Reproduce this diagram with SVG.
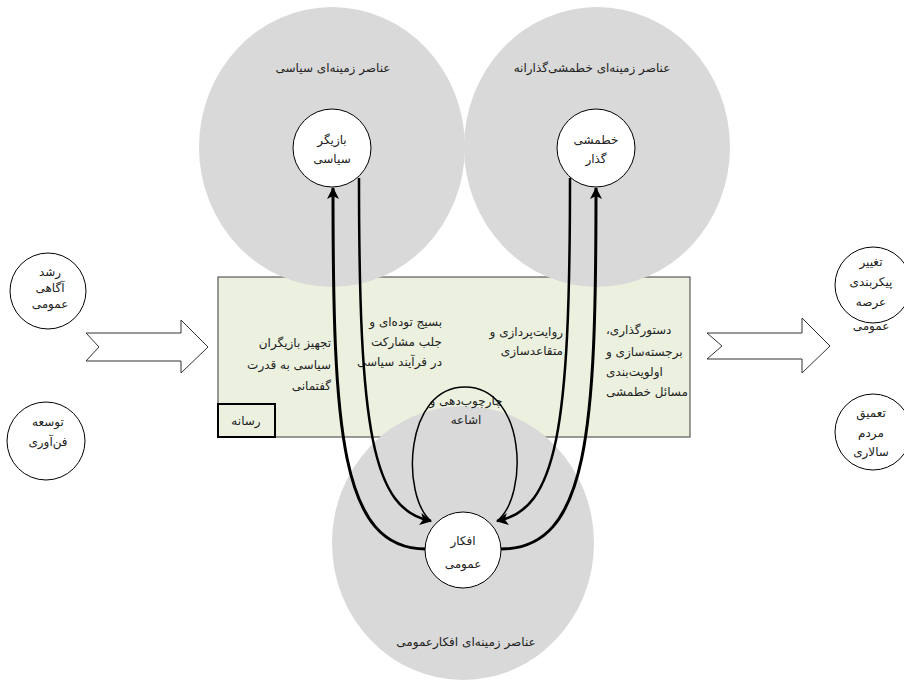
<svg xmlns="http://www.w3.org/2000/svg" width="904" height="689" viewBox="0 0 904 689">
<defs>
<style>
.t{font-family:"DejaVu Sans","Noto Sans",sans-serif;font-size:12px;fill:#222;direction:rtl}
.c{text-anchor:middle}
.s{text-anchor:start}
.e{text-anchor:end}
.node{fill:#fff;stroke:#000;stroke-width:1}
.zone{fill:#d9d9d9;stroke:none}
.big{fill:#fff;stroke:#333;stroke-width:1}
.thick{fill:none;stroke:#000;stroke-width:3}
.mid{fill:none;stroke:#000;stroke-width:2.5}
.thin{fill:none;stroke:#000;stroke-width:1.5}
</style>
<marker id="ah" viewBox="0 0 12 12" refX="11" refY="6" markerWidth="12" markerHeight="12" markerUnits="userSpaceOnUse" orient="auto">
<path d="M0,0 L12,6 L0,12 L3,6 Z" fill="#000"/>
</marker>
</defs>
<rect width="904" height="689" fill="#fff"/>

<g id="arrow-in"><polygon class="big" points="86,333 181,333 181,320 208,347 181,373 181,361 86,361 99,347"/></g>
<g id="arrow-out"><polygon class="big" points="707,333 802,333 802,318 830,346 802,373 802,359 707,359 722,346"/></g>

<g id="media-box"><rect x="218" y="277" width="472" height="160" fill="#ebf1de" stroke="#3a3a3a" stroke-width="1"/></g>

<g id="zone-political">
<ellipse class="zone" cx="332" cy="147" rx="133" ry="140"/>
<text class="t c" x="333" y="72">عناصر زمینه‌ای سیاسی</text>
</g>
<g id="zone-policy">
<ellipse class="zone" cx="597" cy="147" rx="133" ry="140"/>
<text class="t c" x="592" y="72">عناصر زمینه‌ای خطمشی‌گذارانه</text>
</g>
<g id="zone-opinion">
<ellipse class="zone" cx="463" cy="543" rx="131" ry="137"/>
<text class="t c" x="466" y="646">عناصر زمینه‌ای افکارعمومی</text>
</g>

<g id="media-label"><rect x="218" y="404" width="57" height="33" fill="none" stroke="#000" stroke-width="2"/>
<text class="t c" x="246" y="425">رسانه</text></g>

<g id="box-texts">
<text class="t s" x="331" y="347">تجهیز بازیگران</text>
<text class="t s" x="331" y="369">سیاسی به قدرت</text>
<text class="t s" x="331" y="390">گفتمانی</text>
<text class="t s" x="442" y="326">بسیج توده‌ای و</text>
<text class="t s" x="442" y="346">جلب مشارکت</text>
<text class="t s" x="442" y="366">در فرآیند سیاسی</text>
<text class="t s" x="563" y="336">روایت‌پردازی و</text>
<text class="t s" x="563" y="355">متقاعدسازی</text>
<text class="t e" x="606" y="334">دستورگذاری،</text>
<text class="t e" x="606" y="356">برجسته‌سازی و</text>
<text class="t e" x="606" y="376">اولویت‌بندی</text>
<text class="t e" x="606" y="396">مسائل خطمشی</text>
<text class="t c" x="466" y="405">چارچوب‌دهی و</text>
<text class="t c" x="466" y="424">اشاعه</text>
</g>

<g id="connectors">
<path class="thick" d="M426,549 C340,549 333,430 333,188" marker-end="url(#ah)"/>
<path class="mid" d="M359,178 C359,430 372,510 431,521" marker-end="url(#ah)"/>
<path class="thick" d="M501,549 C589,549 596,430 596,188" marker-end="url(#ah)"/>
<path class="mid" d="M570,178 C570,430 557,510 497,521" marker-end="url(#ah)"/>
<path class="thin" d="M431,521 C401,496 404,387 465,387 C526,387 529,496 497,521"/>
</g>

<g id="node-actor"><circle class="node" cx="332" cy="148" r="39"/>
<text class="t c" x="332" y="144">بازیگر</text><text class="t c" x="332" y="163">سیاسی</text></g>
<g id="node-policymaker"><circle class="node" cx="596" cy="148" r="39"/>
<text class="t c" x="596" y="144">خطمشی</text><text class="t c" x="596" y="163">گذار</text></g>
<g id="node-opinion"><circle class="node" cx="463" cy="550" r="38"/>
<text class="t c" x="463" y="545">افکار</text><text class="t c" x="463" y="568">عمومی</text></g>

<g id="node-awareness"><circle class="node" cx="48" cy="291" r="38"/>
<text class="t c" x="50" y="276">رشد</text><text class="t c" x="50" y="292">آگاهی</text><text class="t c" x="50" y="308">عمومی</text></g>
<g id="node-technology"><circle class="node" cx="46" cy="441" r="39"/>
<text class="t c" x="48" y="426">توسعه</text><text class="t c" x="48" y="446">فن‌آوری</text></g>

<g id="node-publicsphere"><circle class="node" cx="873" cy="285" r="38"/>
<text class="t c" x="871" y="266">تغییر</text><text class="t c" x="871" y="286">پیکربندی</text><text class="t c" x="871" y="306">عرصه</text><text class="t c" x="871" y="330">عمومی</text></g>
<g id="node-democracy"><circle class="node" cx="873" cy="432" r="38"/>
<text class="t c" x="871" y="417">تعمیق</text><text class="t c" x="871" y="437">مردم</text><text class="t c" x="871" y="456">سالاری</text></g>
</svg>
